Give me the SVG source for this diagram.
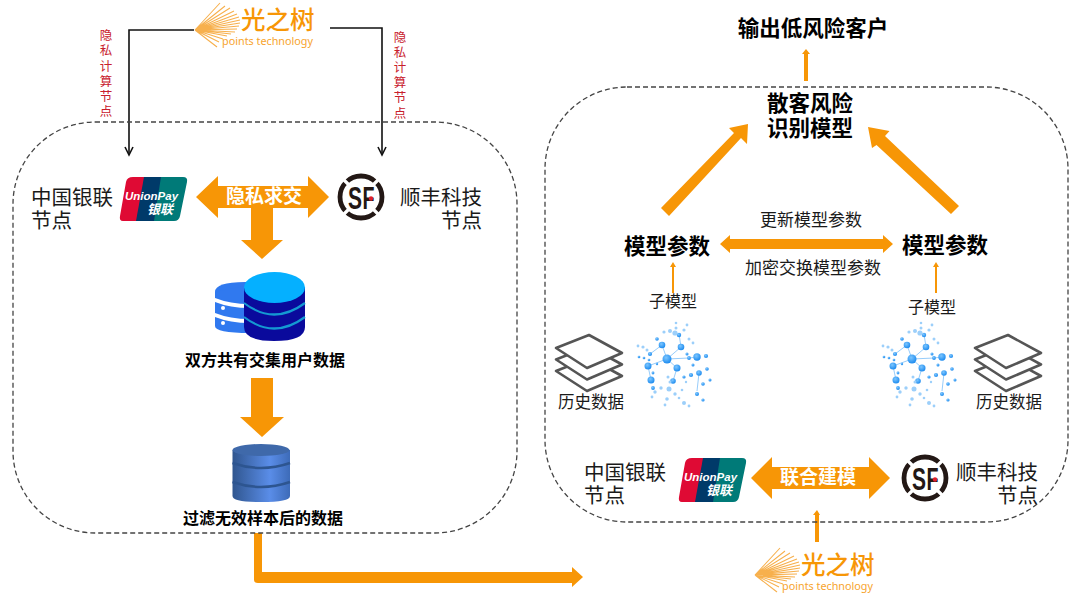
<svg xmlns="http://www.w3.org/2000/svg" width="1080" height="598" viewBox="0 0 1080 598">
<style>
text{font-family:"Noto Sans CJK SC","Liberation Sans",sans-serif;fill:#1a1a1a}
.o{fill:#f79606}
.box{fill:none;stroke:#444;stroke-width:1.3;stroke-dasharray:5 3}
.red{fill:#c8202c;font-size:12.5px;text-anchor:middle}
.w{fill:#fff;font-weight:700;font-size:19px;text-anchor:middle}
.n{font-size:20.5px}
.m{font-size:17px;text-anchor:middle}
.h{font-size:16.5px;text-anchor:middle}
.u{font-size:16px;text-anchor:middle}
.t{font-size:21.5px;font-weight:700;fill:#000;text-anchor:middle}
.s{font-size:16px;font-weight:700;fill:#000;text-anchor:middle}
.sk{fill:#fff;stroke:#555;stroke-width:2.6;stroke-linejoin:round}
.ray{stroke:#f7b04d;stroke-width:1.1;fill:none}
.d1{fill:url(#ball)}.d2{fill:#9ccffa}
.blk{fill:none;stroke:#111;stroke-width:1.6}
</style>
<defs>
<linearGradient id="cyl" x1="0" x2="1" y1="0" y2="0"><stop offset="0" stop-color="#30568f"/><stop offset=".65" stop-color="#5a8de8"/><stop offset="1" stop-color="#3d6bb8"/></linearGradient>
<radialGradient id="ball" cx=".4" cy=".35" r=".7"><stop offset="0" stop-color="#7cc6ff"/><stop offset="1" stop-color="#1687ee"/></radialGradient>
<g id="logo">
<path class="ray" d="M0 30 L30 6M0 30 L35 8M0 30 L39 11M0 30 L42 14M0 30 L44 17M0 30 L45 20M0 30 L45 23M0 30 L44 26M0 30 L42 29M0 30 L40 32M0 30 L36 34M0 30 L32 36M0 30 L28 39M0 30 L24 42M0 30 L22 47M0 30 L25 3"/>
<text x="46" y="29" font-size="24.5" font-weight="500" style="fill:#f79606">光之树</text>
<text x="27" y="45" font-size="10.8" style="fill:#f7a42e;font-family:'Noto Sans','Liberation Sans',sans-serif">points technology</text>
</g>
<g id="up">
<path d="M14 0 H32 L24 44 H4 Q0 44 1 39 L7 5 Q8 0 14 0Z" fill="#df0a34"/>
<path d="M25 0 H50 L42 44 H17 Z" fill="#003a69"/>
<path d="M42 0 H64 Q69 0 68 5 L61 39 Q60 44 55 44 H35Z" fill="#007a78"/>
<text x="6" y="23" font-size="11.5" font-weight="700" font-style="italic" style="fill:#fff;font-family:'Liberation Sans',sans-serif">UnionPay</text>
<text x="28" y="37" font-size="13" font-weight="700" font-style="italic" style="fill:#fff">银联</text>
</g>
<g id="sf">
<circle r="21" fill="none" stroke="#231815" stroke-width="4.8"/>
<path d="M-11 -11 L-18 -18M11 -11 L18 -18M-11 11 L-18 18M11 11 L18 18" stroke="#fff" stroke-width="3.2"/>
<text x="-13" y="11.500" font-size="32" font-weight="700" style="fill:#231815;font-family:'Liberation Sans',sans-serif" textLength="14" lengthAdjust="spacingAndGlyphs">S</text>
<text x="1.500" y="11.500" font-size="32" font-weight="700" style="fill:#231815;font-family:'Liberation Sans',sans-serif" textLength="12" lengthAdjust="spacingAndGlyphs">F</text>
<circle cx="10" cy="1.500" r="2.2" fill="#e0202c"/>
</g>
<g id="stack">
<path class="sk" d="M0 36 L33 23 L66 41 L31 56Z"/>
<path class="sk" d="M0 24.500 L33 11.500 L66 29.500 L31 44.500Z"/>
<path class="sk" d="M0 13 L33 0 L66 18 L31 33Z"/>
</g>
<g id="net">
<g stroke="#5aaef7" stroke-width=".9" fill="none" opacity=".7">
<path d="M30 37 L25 23 M30 37 L44 25 M30 37 L11 44 M30 37 L40 46 M30 37 L52 36 L60 35 M62 51 L60 69 M11 44 L14 58 M40 46 L36 59 M25 23 L13 32 M44 25 L42 12"/>
</g>
<g class="d1">
<circle cx="30" cy="37" r="4.5"/><circle cx="25" cy="23" r="3.3"/><circle cx="44" cy="25" r="3.3"/><circle cx="11" cy="44" r="3.5"/><circle cx="40" cy="46" r="3.5"/><circle cx="60" cy="35" r="3.7"/><circle cx="69" cy="34" r="2.1"/><circle cx="62" cy="51" r="2.8"/><circle cx="14" cy="58" r="3.5"/><circle cx="36" cy="59" r="2.8"/><circle cx="52" cy="36" r="1.9"/><circle cx="13" cy="32" r="2.1"/><circle cx="20" cy="17" r="1.8"/><circle cx="42" cy="13" r="2.2"/><circle cx="16" cy="66" r="1.9"/><circle cx="54" cy="53" r="2.1"/><circle cx="47" cy="55" r="1.6"/><circle cx="70" cy="47" r="1.8"/><circle cx="66" cy="62" r="1.8"/><circle cx="66" cy="78" r="1.6"/><circle cx="60" cy="72" r="2"/><circle cx="2" cy="35" r="1.3"/><circle cx="7" cy="36" r="1.3"/><circle cx="50" cy="32" r="1.5"/><circle cx="56" cy="43" r="1.5"/><circle cx="16" cy="51" r="1.4"/><circle cx="73" cy="58" r="1.5"/><circle cx="12" cy="38" r="1.3"/><circle cx="20" cy="42" r="1.2"/></g>
<g class="d2">
<circle cx="38" cy="11" r="2.6"/><circle cx="33" cy="9" r="2"/><circle cx="27" cy="10" r="1.6"/><circle cx="39" cy="1" r="1.3"/><circle cx="39" cy="6" r="1.5"/><circle cx="47" cy="8" r="1.6"/><circle cx="50" cy="3" r="1.4"/><circle cx="52" cy="17" r="1.5"/><circle cx="56" cy="21" r="1.4"/><circle cx="1" cy="24" r="1.4"/><circle cx="6" cy="25" r="1.6"/><circle cx="10" cy="28" r="1.5"/><circle cx="32" cy="67" r="2.5"/><circle cx="24" cy="66" r="1.7"/><circle cx="18" cy="70" r="1.7"/><circle cx="38" cy="72" r="1.7"/><circle cx="15" cy="75" r="1.4"/><circle cx="30" cy="77" r="1.8"/><circle cx="47" cy="81" r="2"/><circle cx="52" cy="84" r="1.4"/><circle cx="28" cy="83" r="1.4"/><circle cx="42" cy="76" r="1.3"/><circle cx="31" cy="55" r="1.5"/><circle cx="33" cy="60" r="1.5"/><circle cx="45" cy="68" r="1.3"/><circle cx="49" cy="60" r="1.2"/></g>
</g>
</defs>

<g id="connectors">
<path class="o" d="M196 197 L218 176 V186 H308 V176 L329 197 L308 218 V208 H273 V240 H283 L262 259 L241 240 H251 V208 H218 V218Z"/>
<path class="o" d="M251 378 H273 V417 H284 L262 437 L240 417 H251Z"/>
<path class="o" d="M254 533 H262 V572 H572 V567 L583 577 L572 587 V583 H258 Q254 583 254 580Z"/>
<path class="blk" d="M194 30 H129 V153"/>
<path class="blk" d="M125 147 L129 155 L133 147"/>
<path class="blk" d="M330 28 H382 V153"/>
<path class="blk" d="M378 147 L382 155 L386 147"/>
<path class="o" d="M804 81 V54 H802 L806 49 L810 54 H808 V81Z"/>
<path class="o" d="M661 208 L734 133 L729 128 L748 124 L747 144 L741 138 L669 216Z"/>
<path class="o" d="M959 206 L885 136 L889.500 131 L868 127 L872 148 L876.500 145 L951 214Z"/>
<path class="o" d="M720 244 L730 235 V239 H883 V235 L893 244 L883 253 V249 H730 V253Z"/>
<path class="o" d="M672 293 V267 H670 L673 262 L676 267 H674 V293Z"/>
<path class="o" d="M935 293 V267 H933 L936 262 L939 267 H937 V293Z"/>
<path class="o" d="M751 478 L772 457 V467 H869 V457 L890 478 L869 499 V489 H772 V499Z"/>
<path class="o" d="M815 542 V515 H813 L817 510 L820 515 H819 V542Z"/>
</g>

<g id="left-box"><rect class="box" x="13" y="122" width="504" height="411" rx="82"/></g>
<g id="right-box"><rect class="box" x="545" y="87" width="523" height="435" rx="82"/></g>

<g id="logo-top"><use href="#logo" transform="translate(195 0)"/></g>
<g id="logo-bottom"><use href="#logo" transform="translate(755 545)"/></g>

<g id="red-left"><text class="red"><tspan x="106" y="40">隐</tspan><tspan x="106" y="55">私</tspan><tspan x="106" y="71">计</tspan><tspan x="106" y="86">算</tspan><tspan x="106" y="101">节</tspan><tspan x="106" y="116">点</tspan></text></g>
<g id="red-right"><text class="red"><tspan x="400" y="42">隐</tspan><tspan x="400" y="57">私</tspan><tspan x="400" y="72">计</tspan><tspan x="400" y="87">算</tspan><tspan x="400" y="102">节</tspan><tspan x="400" y="118">点</tspan></text></g>

<g id="node-cup-left"><text class="n"><tspan x="31" y="205">中国银联</tspan><tspan x="31" y="228">节点</tspan></text><use href="#up" transform="translate(119 177)"/></g>
<g id="node-sf-left"><use href="#sf" transform="translate(361 197)"/><text class="n" text-anchor="end"><tspan x="482" y="205">顺丰科技</tspan><tspan x="482" y="228">节点</tspan></text></g>
<g id="label-qiujiao"><text class="w" x="264" y="203">隐私求交</text></g>

<g id="db1">
<path d="M215 292 Q215 282 245 282 H255 V296 L215 296Z" fill="#3079ef"/>
<path d="M215 292 V298 Q230 304 250 304 V285Z" fill="#3079ef"/>
<path d="M215 302 Q230 308 250 308 V319 Q230 319 215 313Z" fill="#3079ef"/>
<path d="M215 317 Q230 323 250 323 V333 Q215 333 215 326Z" fill="#3079ef"/>
<circle cx="223" cy="308" r="2" fill="#fff"/><circle cx="223" cy="323" r="2" fill="#fff"/>
<path d="M244 287 V327 Q244 341 274 341 Q305 341 305 327 V287Z" fill="#0a0a9c"/>
<path d="M244 303 Q274 326 305 303" fill="none" stroke="#1499d2" stroke-width="2.2"/>
<path d="M244 317 Q274 340 305 317" fill="none" stroke="#1499d2" stroke-width="2.2"/>
<ellipse cx="274.500" cy="287.500" rx="30.500" ry="15.500" fill="#05b0ff"/>
<text class="s" x="265" y="366">双方共有交集用户数据</text>
</g>

<g id="db2">
<path d="M232.500 450 V496 Q232.500 502 261 502 Q290 502 290 496 V450Z" fill="url(#cyl)"/>
<path d="M232.500 463 Q261 473 290 463 M232.500 482 Q261 492 290 482" fill="none" stroke="#2d5590" stroke-width="2.5"/>
<ellipse cx="261" cy="450" rx="28.500" ry="6" fill="#3f69aa"/>
<text class="s" x="263" y="524">过滤无效样本后的数据</text>
</g>

<g id="node-output"><text class="t" x="813" y="36">输出低风险客户</text></g>
<g id="node-model"><text class="t"><tspan x="810" y="111">散客风险</tspan><tspan x="810" y="136">识别模型</tspan></text></g>
<g id="node-param-left"><text class="t" x="667" y="254">模型参数</text></g>
<g id="node-param-right"><text class="t" x="945" y="253">模型参数</text></g>
<text class="m" x="811" y="226">更新模型参数</text>
<text class="m" x="813" y="274">加密交换模型参数</text>
<text class="u" x="673" y="307">子模型</text>
<text class="u" x="932" y="313">子模型</text>

<g id="data-left"><use href="#stack" transform="translate(556 335)"/><text class="h" x="591" y="408">历史数据</text></g>
<g id="data-right"><use href="#stack" transform="translate(975 335)"/><text class="h" x="1009" y="408">历史数据</text></g>
<use id="net-left" href="#net" transform="translate(637 322)"/>
<use id="net-right" href="#net" transform="translate(882 322)"/>

<g id="node-cup-right"><text class="n"><tspan x="584" y="480">中国银联</tspan><tspan x="584" y="503">节点</tspan></text><use href="#up" transform="translate(678 458)"/></g>
<g id="node-sf-right"><use href="#sf" transform="translate(925 478)"/><text class="n" text-anchor="end"><tspan x="1038" y="480">顺丰科技</tspan><tspan x="1038" y="503">节点</tspan></text></g>
<g id="label-lianhe"><text class="w" x="818" y="484">联合建模</text></g>
</svg>
